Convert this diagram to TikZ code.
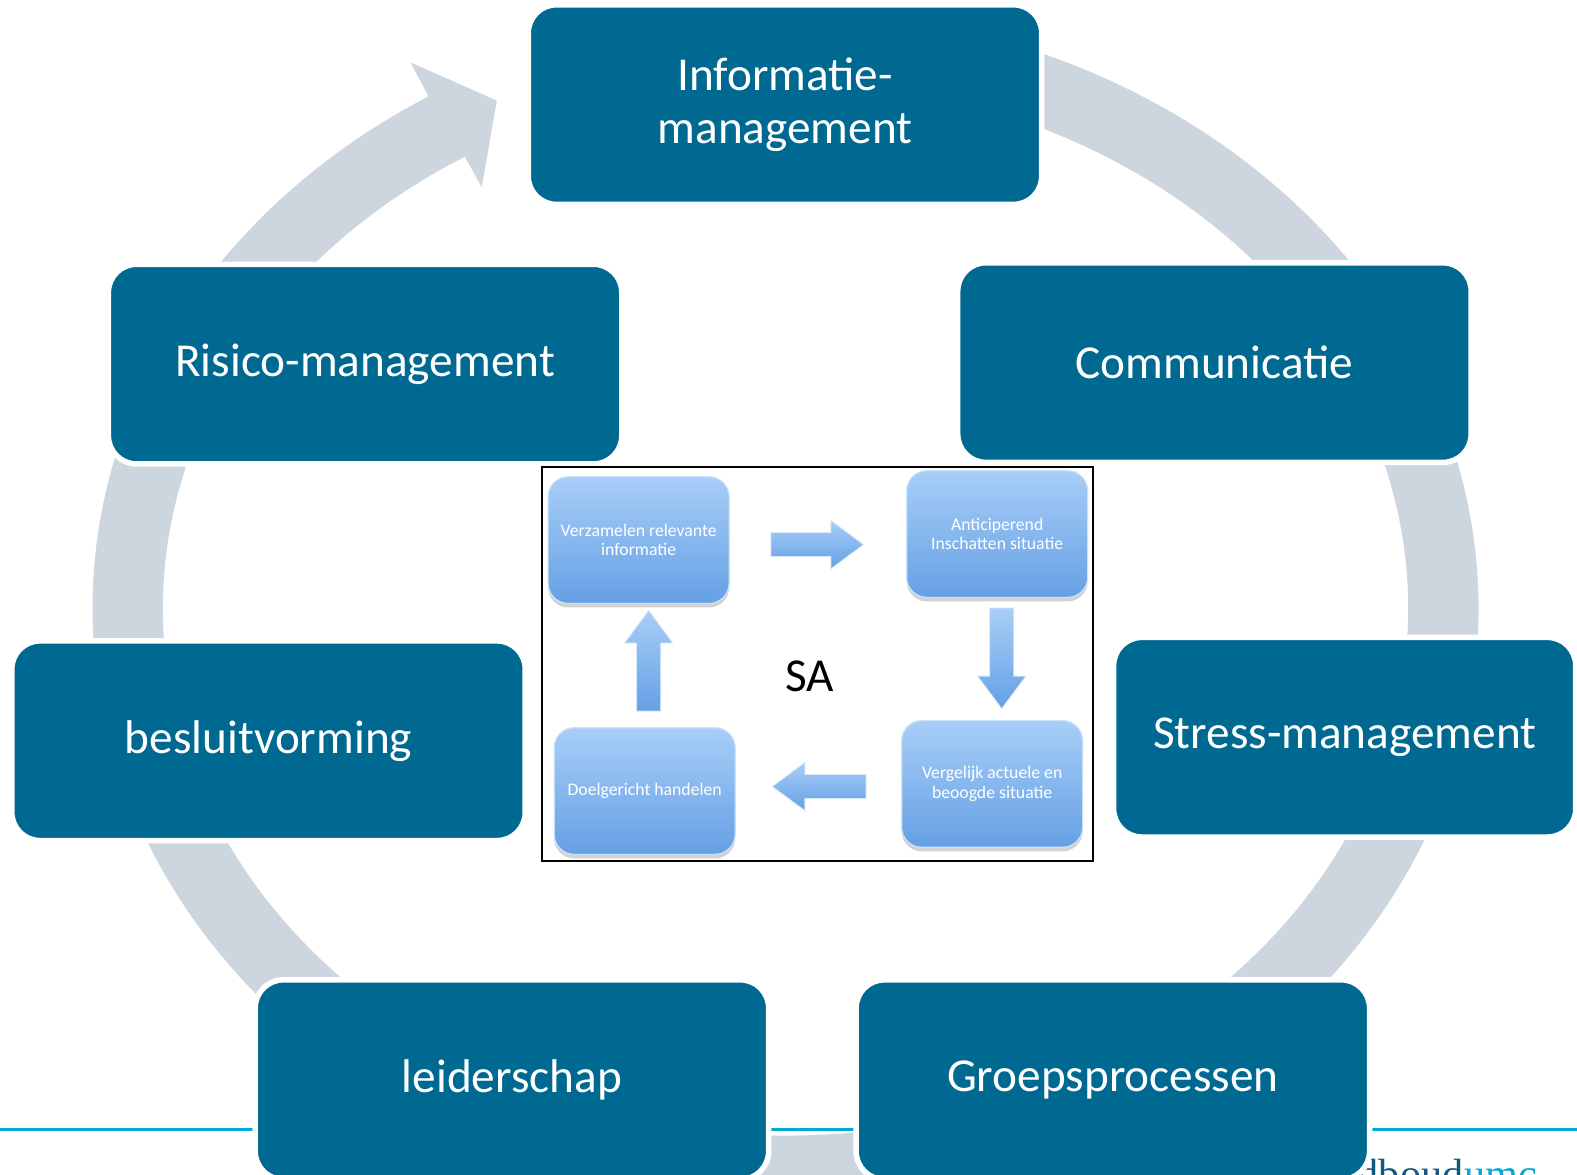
\documentclass[tikz,border=0pt]{standalone}
\usepackage{fontspec}
\setmainfont{Carlito}
\newfontfamily\logofont{Liberation Serif}
\usetikzlibrary{scopes,positioning,calc,shapes.arrows,shadows}
\definecolor{boxblue}{RGB}{0,105,145}
\definecolor{ringgrey}{RGB}{205,213,223}
\definecolor{linecyan}{RGB}{0,170,212}
\definecolor{satop}{RGB}{168,206,248}
\definecolor{sabottom}{RGB}{101,160,228}
\definecolor{logodark}{RGB}{18,90,125}
\tikzset{
    bigbox/.style={
        rectangle, rounded corners=14pt, fill=boxblue, draw=white, line width=2.75pt,
        text=white, minimum width=255.25pt, minimum height=99.25pt, align=center,
        font=\fontsize{23.5}{26.5}\selectfont
    },
    sabox/.style={
        rectangle, rounded corners=10pt, top color=satop, bottom color=sabottom,
        draw=satop!60!white, line width=0.6pt, text=white, minimum width=90pt, minimum height=63pt,
        align=center, font=\fontsize{8.8}{9.6}\selectfont,
        drop shadow={shadow xshift=0pt, shadow yshift=-2pt, opacity=0.35}
    },
    flowarrow/.style={
        single arrow, top color=satop, bottom color=sabottom, draw=satop!50!white, line width=0.4pt,
        inner sep=5.75pt, single arrow head extend=6pt, single arrow tip angle=73, minimum height=46pt
    },
    logo/.style={inner sep=0pt, font=\logofont\fontsize{21}{21}\selectfont}
}

\begin{document}
\begin{tikzpicture}[x=0.5pt, y=-0.5pt]
    \useasboundingbox (0,0) rectangle (1568,1168);
    \clip (0,0) rectangle (1568,1168);
    %footer
    \coordinate (lineL) at (0,1123);
    \coordinate (lineR) at (1568,1123);
    \draw[linecyan, line width=1.5pt] (lineL) -- (lineR);
    \node[logo, text=logodark, anchor=base west] (logoA) at (1317,1182) {radboud};
    \node[logo, text=linecyan, right=0pt of logoA.base east, anchor=base west] (logoB) {umc};
    %ring
    \coordinate (cen) at (781,605);
    \fill[ringgrey] ([shift={(cen)}]-100:689 and 594)
        arc[start angle=-100, end angle=239, x radius=689, y radius=594]
        -- (408,62) -- (494,100) -- (479,186)
        -- ([shift={(cen)}]239:619 and 524)
        arc[start angle=239, end angle=-100, x radius=619, y radius=524] -- cycle;
    %boxes
    \node[bigbox] (info) at (780.5,104) {Informatie-\\management};
    \node[bigbox] (comm) at (1207.5,360.5) {Communicatie};
    \node[bigbox, minimum width=229.75pt] (stress) at (1337,733) {Stress-management};
    \node[bigbox] (groep) at (1106.5,1073.5) {Groepsprocessen};
    \node[bigbox] (leider) at (509,1073.5) {leiderschap};
    \node[bigbox] (besluit) at (267,736.5) {besluitvorming};
    \node[bigbox] (risico) at (363,362) {Risico-management};
    %SA
    \node[draw=black, line width=1pt, fill=white, minimum width=274pt, minimum height=196pt] (panel) at (813,660) {};
    \node[sabox] (verz) at (635,537) {Verzamelen relevante\\informatie};
    \node[sabox] (anti) at (991.5,531) {Anticiperend\\Inschatten situatie};
    \node[sabox] (verg) at (986.5,779.5) {Vergelijk actuele en\\beoogde situatie};
    \node[sabox] (doel) at (641,786.5) {Doelgericht handelen};
    \node[flowarrow] (rarr) at (804.5,541.5) {};
    \node[flowarrow, minimum height=50pt, rotate=-90] (darr) at (996,646.5) {};
    \node[flowarrow, minimum height=46.5pt, rotate=180] (larr) at (822.5,782) {};
    \node[flowarrow, minimum height=50pt, rotate=90] (uarr) at (645,665) {};
    \node[font=\fontsize{23.5}{26.5}\selectfont] (sa) at (805,672) {SA};
\end{tikzpicture}
\end{document}
